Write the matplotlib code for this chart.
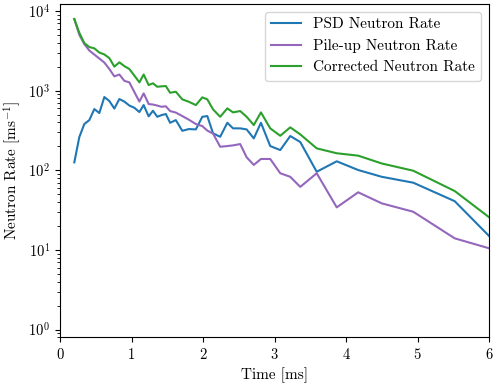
import matplotlib
matplotlib.use('Agg')
import matplotlib.pyplot as plt

plt.rcParams['font.family'] = 'serif'
plt.rcParams['font.serif'] = ['cmr10']
plt.rcParams['mathtext.fontset'] = 'cm'
plt.rcParams['axes.formatter.use_mathtext'] = True
plt.rcParams['font.size'] = 11
plt.rcParams['xtick.labelsize'] = 10.5
plt.rcParams['ytick.labelsize'] = 10.5

# time bins [ms]
t = [0.20, 0.27, 0.34, 0.41, 0.48, 0.55, 0.62, 0.69, 0.76, 0.83, 0.90, 0.97,
     1.04, 1.11, 1.17, 1.24, 1.30, 1.36, 1.42, 1.48, 1.54, 1.62, 1.71, 1.80,
     1.90, 1.99, 2.06, 2.14, 2.24, 2.34, 2.42, 2.52, 2.61, 2.71, 2.81, 2.94,
     3.08, 3.22, 3.36, 3.59, 3.87, 4.17, 4.50, 4.94, 5.52, 6.00]

psd = [126, 262, 382, 428, 589, 525, 834, 743, 597, 787, 731, 652,
       611, 540, 661, 477, 561, 471, 495, 510, 396, 428, 314, 330,
       327, 471, 481, 292, 264, 396, 337, 337, 327, 252, 396, 202,
       180, 270, 227, 96, 130, 101, 83, 70, 41, 15]

pileup = [7960, 5050, 3860, 3200, 2850, 2540, 2260, 1875, 1517, 1600, 1332, 1275,
          963, 731, 927, 681, 671, 652, 629, 638, 556, 532, 481, 434,
          382, 360, 316, 290, 198, 202, 206, 214, 146, 117, 139, 139,
          92, 83, 62, 92, 34.3, 53, 38.5, 30.2, 14, 10.5]

corrected = [7960, 5350, 3970, 3540, 3410, 3020, 2860, 2570, 2010, 2275, 2040, 1875,
             1550, 1275, 1600, 1180, 1240, 1123, 1136, 1146, 944, 971, 780, 728,
             661, 826, 780, 584, 471, 601, 535, 556, 471, 371, 535, 337,
             272, 347, 283, 189, 164, 153, 122, 99, 55, 25.8]

fig = plt.figure(figsize=(4.98, 3.88), dpi=100)
ax = fig.add_axes([0.1205, 0.1307, 0.8615, 0.859])

ax.plot(t, psd, color='tab:blue', label='PSD Neutron Rate')
ax.plot(t, pileup, color='tab:purple', label='Pile-up Neutron Rate')
ax.plot(t, corrected, color='tab:green', label='Corrected Neutron Rate')

ax.set_yscale('log')
ax.set_xlim(0, 6)
ax.set_ylim(0.8, 1.23e4)
ax.set_xlabel('Time [ms]')
ax.set_ylabel(r'Neutron Rate [ms$^{-1}$]')
ax.legend(loc='upper right')

fig.savefig('out.png', dpi=100)
